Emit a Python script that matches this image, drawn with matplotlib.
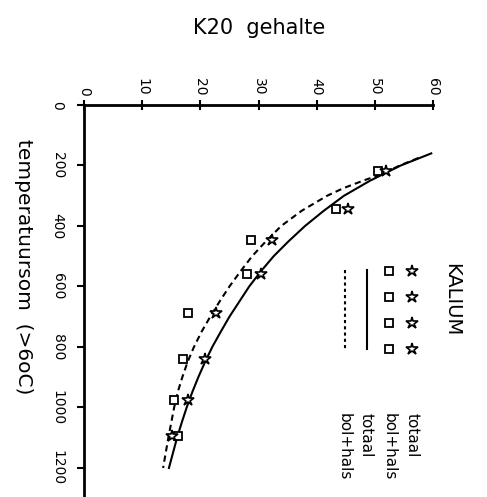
# K2O content against temperature sum, drawn rotated a quarter turn
# (temperature runs downward, K2O to the right), like the scanned figure.

import matplotlib
matplotlib.use("Agg")
import matplotlib.pyplot as plt

plt.rcParams["font.family"] = ["DejaVu Sans"]

# ---- data ----
temp_sum = [218, 343, 447, 559, 687, 841, 976, 1095]
k2o_totaal = [51.9, 45.4, 32.3, 30.4, 22.7, 20.8, 17.9, 15.1]
k2o_bolhals = [50.5, 43.4, 28.7, 28.1, 17.8, 17.0, 15.5, 16.2]

# fitted curves
fit_totaal_t = [160, 200, 250, 300, 350, 400, 450, 500, 550, 600, 650, 700, 750,
                800, 850, 900, 950, 1000, 1050, 1100, 1150, 1200]
fit_totaal_k = [59.7, 54.45, 49.2, 44.7, 41.2, 38.0, 35.2, 32.6, 30.4, 28.4, 26.7, 25.0, 23.5,
                22.05, 20.8, 19.65, 18.6, 17.65, 16.8, 16.0, 15.3, 14.6]
fit_bolhals_t = [175, 200, 230, 250, 275, 300, 350, 400, 450, 500, 550, 600, 650, 700, 750,
                 800, 850, 900, 950, 1000, 1050, 1100, 1150, 1200]
fit_bolhals_k = [57.5, 54.3, 51.0, 48.0, 44.6, 41.8, 37.4, 33.9, 31.3, 28.9, 26.9, 25.0, 23.3,
                 21.7, 20.2, 18.9, 17.8, 16.9, 16.1, 15.5, 15.0, 14.5, 14.05, 13.6]

k_ticks = [0, 10, 20, 30, 40, 50, 60]
t_ticks = [0, 200, 400, 600, 800, 1000, 1200]
legend_labels = ["totaal", "bol+hals", "totaal", "bol+hals"]

W, H = 487, 497
fig = plt.figure(figsize=(W / 100, H / 100), dpi=100)
ax = fig.add_axes([84 / W, 0, 349 / W, (H - 105) / H])

ax.plot(fit_totaal_k, fit_totaal_t, color="black", lw=1.5, zorder=2)
ax.plot(fit_bolhals_k, fit_bolhals_t, color="black", lw=1.5, ls=(0, (3, 2)), zorder=2)
ax.plot(k2o_bolhals, temp_sum, ls="none", marker="s", ms=6, mfc="white",
        mec="black", mew=1.3, zorder=3)
ax.plot(k2o_totaal, temp_sum, ls="none", marker="*", ms=9, mfc="white",
        mec="black", mew=1.2, zorder=4)

ax.set_xlim(0, 60)
ax.set_ylim(1296, 0)
ax.set_xticks(k_ticks)
ax.set_yticks(t_ticks)
ax.xaxis.tick_top()
ax.tick_params(axis="x", direction="inout", length=7, width=1.5, pad=3, labelsize=10,
               labelrotation=270)
ax.tick_params(axis="y", direction="out", length=5, width=1.5, pad=9, labelsize=10,
               labelrotation=270)
for lab in ax.get_yticklabels():
    lab.set_verticalalignment("center")
for side in ["right", "bottom"]:
    ax.spines[side].set_visible(False)
for side in ["top", "left"]:
    ax.spines[side].set_linewidth(2)

fig.text(259 / W, 1 - 28 / H, "K20  gehalte", fontsize=15, ha="center", va="center")
fig.text(23 / W, 1 - 267 / H, "temperatuursom  (>6oC)", fontsize=14.5,
         rotation=270, ha="center", va="center")

# hand-made legend, rotated with the chart
def fx(px):
    return (px - 84) / 349

def fy(py):
    return (H - py) / (H - 105)

rows_y = [271, 297, 323, 349]
ax.plot([fx(412)] * 4, [fy(y) for y in rows_y], ls="none", marker="*", ms=9,
        mfc="white", mec="black", mew=1.2, transform=ax.transAxes, clip_on=False)
ax.plot([fx(389)] * 4, [fy(y) for y in rows_y], ls="none", marker="s", ms=6,
        mfc="white", mec="black", mew=1.3, transform=ax.transAxes, clip_on=False)
ax.plot([fx(367)] * 2, [fy(270), fy(349)], color="black", lw=1.5,
        transform=ax.transAxes, clip_on=False)
ax.plot([fx(345)] * 2, [fy(270), fy(350)], color="black", lw=1.5, ls=(0, (1.5, 1.5)),
        transform=ax.transAxes, clip_on=False)
for px, lab in zip([412, 389, 366, 344], legend_labels):
    ax.text(fx(px), fy(413), lab, fontsize=11, rotation=270, ha="center", va="top",
            transform=ax.transAxes)
ax.text(fx(452), fy(300), "KALIUM", fontsize=14, rotation=270, ha="center", va="center",
        transform=ax.transAxes)

fig.savefig("out.png", dpi=100)
